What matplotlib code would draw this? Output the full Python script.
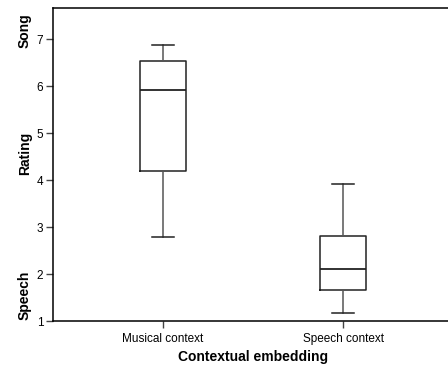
import matplotlib.pyplot as plt

plt.rcParams['font.family'] = ['Liberation Sans', 'DejaVu Sans']

groups = ['Musical context', 'Speech context']
lo_whisk = [2.78, 1.16]
q1 = [4.20, 1.66]
med = [5.91, 2.11]
q3 = [6.53, 2.81]
hi_whisk = [6.87, 3.91]

stats = []
for i in range(len(groups)):
    stats.append({'label': groups[i], 'whislo': lo_whisk[i], 'q1': q1[i], 'med': med[i],
                  'q3': q3[i], 'whishi': hi_whisk[i], 'fliers': []})

fig = plt.figure(figsize=(4.48, 3.67), dpi=100)
ax = fig.add_axes([53/448, 46/367, 400/448, 313/367])

lc = '#222222'
ax.bxp(stats, positions=[1, 2], widths=0.255, showfliers=False,
       boxprops=dict(color=lc, linewidth=1.1),
       medianprops=dict(color=lc, linewidth=1.3),
       whiskerprops=dict(color='#555555', linewidth=1.1),
       capprops=dict(color=lc, linewidth=1.1),
       capwidths=0.125)

ax.set_xlim(0.389, 2.611)
ax.set_ylim(1, 7.66)
ax.set_yticks([1, 2, 3, 4, 5, 6, 7])
ax.spines['right'].set_visible(False)
for s in ['left', 'bottom', 'top']:
    ax.spines[s].set_linewidth(1.1)
ax.tick_params(axis='both', direction='out', length=5, width=1, labelsize=8.5, color='#444444')
ax.tick_params(axis='y', pad=2)
ax.set_xticklabels(groups)
ax.set_xlabel('Contextual embedding', fontsize=10, fontweight='bold', labelpad=4)

fig.text(25/448, 1 - 31/367, 'Song', rotation=90, ha='center', va='center', fontsize=10, fontweight='bold')
fig.text(25/448, 1 - 153/367, 'Rating', rotation=90, ha='center', va='center', fontsize=10, fontweight='bold')
fig.text(25/448, 1 - 295/367, 'Speech', rotation=90, ha='center', va='center', fontsize=10, fontweight='bold')

fig.savefig('out.png', dpi=100)
